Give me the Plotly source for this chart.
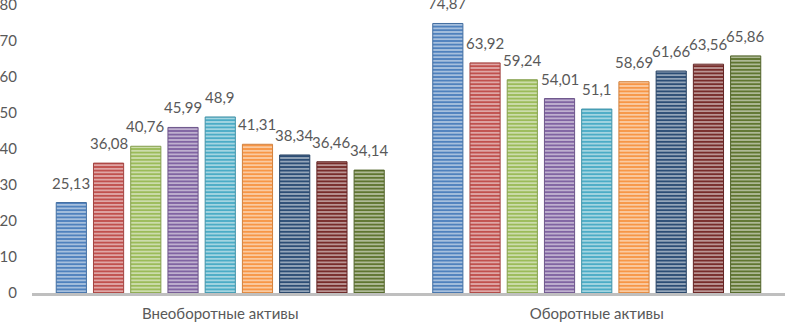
import plotly.graph_objects as go

categories = ["Внеоборотные активы", "Оборотные активы"]
series_names = ["Ряд 1", "Ряд 2", "Ряд 3", "Ряд 4", "Ряд 5", "Ряд 6", "Ряд 7", "Ряд 8", "Ряд 9"]
values = [
    [25.13, 74.87],
    [36.08, 63.92],
    [40.76, 59.24],
    [45.99, 54.01],
    [48.90, 51.10],
    [41.31, 58.69],
    [38.34, 61.66],
    [36.46, 63.56],
    [34.14, 65.86],
]
labels = [
    ["25,13", "74,87"],
    ["36,08", "63,92"],
    ["40,76", "59,24"],
    ["45,99", "54,01"],
    ["48,9", "51,1"],
    ["41,31", "58,69"],
    ["38,34", "61,66"],
    ["36,46", "63,56"],
    ["34,14", "65,86"],
]
colors = ["#4F81BD", "#C0504D", "#9BBB59", "#8064A2", "#4BACC6", "#F79646", "#2C4D75", "#772C2A", "#5F7530"]
y_ticks = [0, 10, 20, 30, 40, 50, 60, 70, 80]


def mix(hex_color, other, t):
    h = hex_color.lstrip("#")
    o = other.lstrip("#")
    r, g, b = (int(h[i:i + 2], 16) for i in (0, 2, 4))
    r2, g2, b2 = (int(o[i:i + 2], 16) for i in (0, 2, 4))
    return "#%02X%02X%02X" % (round(r + (r2 - r) * t), round(g + (g2 - g) * t), round(b + (b2 - b) * t))


BARGAP = 0.11
FONT = "Lato"
TXT = "#595959"
FS = 15

fig = go.Figure()
for name, vals, col in zip(series_names, values, colors):
    fig.add_trace(go.Bar(
        name=name, x=categories, y=vals,
        marker=dict(
            color=col,
            line=dict(color=mix(col, "#000000", 0.15), width=1),
            pattern=dict(shape="-", bgcolor=col, fgcolor=mix(col, "#FFFFFF", 0.55),
                         size=3.6, solidity=0.45, fillmode="replace"),
        ),
        showlegend=False,
    ))

n = len(series_names)
slot = (1 - BARGAP) / n
annotations = []
for i, (vals, labs) in enumerate(zip(values, labels)):
    for gi, (v, lab) in enumerate(zip(vals, labs)):
        annotations.append(dict(
            x=gi + (i - (n - 1) / 2) * slot, y=v, xref="x", yref="y",
            text=lab, showarrow=False, yanchor="bottom", yshift=9,
            font=dict(family=FONT, size=FS, color=TXT),
        ))

fig.update_layout(
    width=785, height=323,
    margin=dict(l=32, r=0, t=5, b=30),
    paper_bgcolor="white", plot_bgcolor="white",
    barmode="group", bargap=BARGAP, bargroupgap=0.19,
    font=dict(family=FONT, size=FS, color=TXT),
    annotations=annotations,
    xaxis=dict(showline=True, linecolor="#BFBFBF", linewidth=3, showgrid=False,
               automargin=False,
               ticks="", tickfont=dict(size=FS, color=TXT), ticklabelstandoff=5),
    yaxis=dict(range=[0, 80], tickvals=y_ticks, showgrid=False, zeroline=False,
               automargin=False, ticklabeloverflow="allow",
               showline=False, ticks="", tickfont=dict(size=FS, color=TXT),
               ticklabelstandoff=14),
)

fig.write_html("out.html", config={"displayModeBar": False},
               post_script="document.body.style.margin='0';")
